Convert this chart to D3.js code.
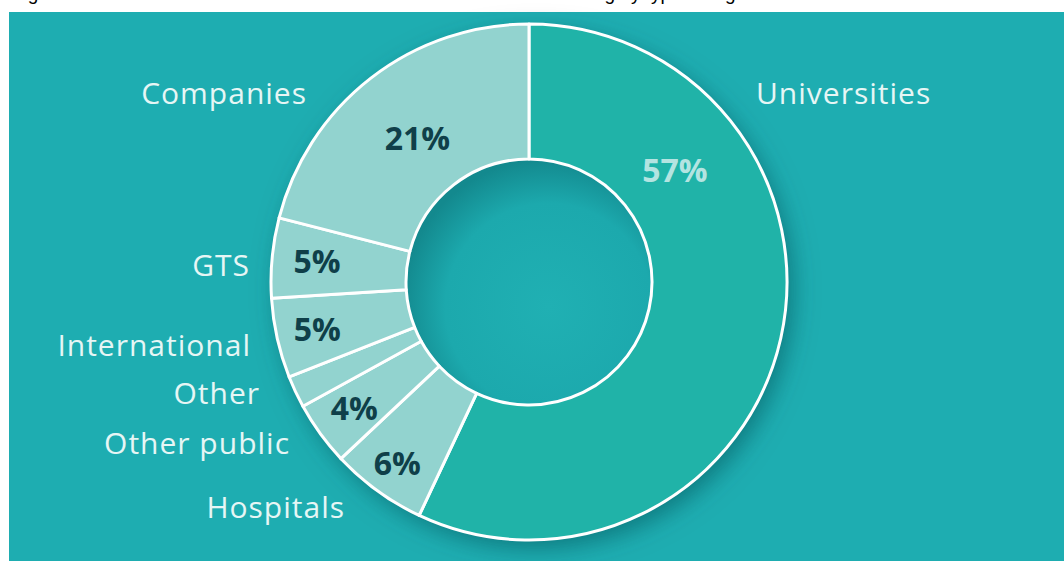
<!DOCTYPE html>
<html>
<head>
<meta charset="utf-8">
<script src="https://cdn.jsdelivr.net/npm/d3@7"></script>
<style>
  html, body { margin: 0; padding: 0; background: #ffffff; }
  svg { display: block; }
</style>
</head>
<body>
<svg id="chart" width="1064" height="561"></svg>
<script>
// ---- data ----
const categories = ["Universities", "Hospitals", "Other public", "Other", "International", "GTS", "Companies"];
const values = [57, 6, 4, 2, 5, 5, 21];
const titleText = "Figure 2: Distribution of the amount of contribution received and funding by type of organisation";

// ---- style / layout ----
const W = 1064, H = 561;
const cx = 529, cy = 282, outerR = 258, innerR = 123;
const sliceColors = ["#20b3a8", "#92d3cf", "#92d3cf", "#92d3cf", "#92d3cf", "#92d3cf", "#92d3cf"];
const pctColors = ["#b4e4e1", "#0f3f49", "#0f3f49", "#0f3f49", "#0f3f49", "#0f3f49", "#0f3f49"];
const pctRadius = [184, 224, 216, 0, 217, 213, 182];
const pctAngleDeg = [52.5, null, null, null, null, null, null];
// category label anchors: [x, baseline y, anchor]
const catLabelPos = [
  [756, 104, "start"], [345, 518, "end"], [290, 454, "end"], [260, 404, "end"],
  [251, 356, "end"], [250, 276, "end"], [307, 104, "end"]
];

const svg = d3.select("#chart");
const defs = svg.append("defs");

const shadow = defs.append("filter").attr("id", "shadow")
  .attr("x", "-30%").attr("y", "-30%").attr("width", "160%").attr("height", "160%");
shadow.append("feDropShadow").attr("dx", 6).attr("dy", 8).attr("stdDeviation", 12)
  .attr("flood-color", "#064f55").attr("flood-opacity", 0.55);

const holeGrad = defs.append("radialGradient").attr("id", "hole")
  .attr("cx", "58%").attr("cy", "60%").attr("r", "60%");
holeGrad.append("stop").attr("offset", "0%").attr("stop-color", "#20b0b3");
holeGrad.append("stop").attr("offset", "70%").attr("stop-color", "#1ca9ad");
holeGrad.append("stop").attr("offset", "100%").attr("stop-color", "#13898e");

// title (cropped off above the panel, as in the source picture)
svg.append("text").attr("x", 12).attr("y", -0.5)
  .attr("font-family", "Liberation Sans, Arial, sans-serif").attr("font-size", 19)
  .attr("fill", "#000").text(titleText);

// panel
svg.append("rect").attr("x", 9).attr("y", 12).attr("width", W - 9).attr("height", H - 12)
  .attr("fill", "#1eadb1");

const pie = d3.pie().sort(null).value(d => d)
  .startAngle(0).endAngle(2 * Math.PI);
const arcs = pie(values);
const arc = d3.arc().innerRadius(innerR).outerRadius(outerR);

const g = svg.append("g").attr("transform", `translate(${cx},${cy})`);

// shadow base
g.append("g").attr("filter", "url(#shadow)")
  .selectAll("path").data(arcs).join("path")
  .attr("d", arc).attr("fill", (d, i) => sliceColors[i]);

// hole
g.append("circle").attr("r", innerR).attr("fill", "url(#hole)");

// slices with white borders
g.append("g").selectAll("path").data(arcs).join("path")
  .attr("d", arc)
  .attr("fill", (d, i) => sliceColors[i])
  .attr("stroke", "#ffffff").attr("stroke-width", 3).attr("stroke-linejoin", "round");

// percentage labels
g.append("g").selectAll("text").data(arcs.filter(d => d.value >= 3)).join("text")
  .attr("transform", d => {
    const i = d.index;
    const a = pctAngleDeg[i] != null ? pctAngleDeg[i] * Math.PI / 180 : (d.startAngle + d.endAngle) / 2;
    const r = pctRadius[i];
    return `translate(${r * Math.sin(a)},${-r * Math.cos(a)})`;
  })
  .attr("text-anchor", "middle").attr("dy", "0.36em")
  .attr("font-family", "Open Sans, Lato, sans-serif").attr("font-weight", 700)
  .attr("font-size", 32)
  .attr("fill", d => pctColors[d.index])
  .text(d => d.value + "%");

// category labels
svg.append("g").selectAll("text").data(categories).join("text")
  .attr("x", (d, i) => catLabelPos[i][0])
  .attr("y", (d, i) => catLabelPos[i][1])
  .attr("text-anchor", (d, i) => catLabelPos[i][2])
  .attr("font-family", "Open Sans, Lato, sans-serif")
  .attr("font-size", 30)
  .attr("letter-spacing", 1)
  .attr("fill", "#e6f6f5")
  .text(d => d);
</script>
</body>
</html>
